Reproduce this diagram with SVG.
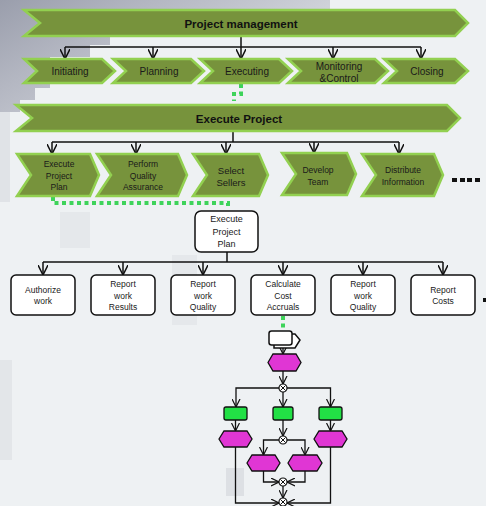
<svg xmlns="http://www.w3.org/2000/svg" width="486" height="506" viewBox="0 0 486 506">
<style>
.chev{fill:#77933c;stroke:#92d050;stroke-width:2.5;stroke-linejoin:miter}
.t{font-family:"Liberation Sans",Arial,sans-serif;fill:#1a1a1a;text-anchor:middle}
.tb{font-family:"Liberation Sans",Arial,sans-serif;fill:#111;text-anchor:middle;font-weight:bold;font-size:11.5px}
.box{fill:#fff;stroke:#111;stroke-width:1.5}
.ln{fill:none;stroke:#111;stroke-width:1.5}
.ar{fill:none;stroke:#111;stroke-width:1.5;marker-end:url(#v)}
.as{fill:none;stroke:#111;stroke-width:1.3;marker-end:url(#vs)}
.dot{fill:none;stroke:#3ed35a;stroke-width:4;stroke-dasharray:4,3.5}
.hex{fill:#e036d4;stroke:#111;stroke-width:1.3}
.gr{fill:#22e045;stroke:#111;stroke-width:1.3}
.x{fill:#fff;stroke:#111;stroke-width:1.2}
.xx{fill:none;stroke:#111;stroke-width:1}
</style>
<defs>
<marker id="v" viewBox="0 0 10 10" refX="10" refY="5" markerWidth="10" markerHeight="10" markerUnits="userSpaceOnUse" orient="auto">
<path d="M0,0 L10,5 L0,10" fill="none" stroke="#111" stroke-width="1.5"/>
</marker>
<marker id="vs" viewBox="0 0 10 10" refX="10" refY="5" markerWidth="8" markerHeight="9" markerUnits="userSpaceOnUse" orient="auto">
<path d="M0,0 L10,5 L0,10" fill="none" stroke="#111" stroke-width="1.5"/>
</marker>
<linearGradient id="bg1" x1="0" y1="0" x2="1" y2="0.6">
<stop offset="0" stop-color="#9a9eac"/>
<stop offset="0.35" stop-color="#b4b7c2"/>
<stop offset="1" stop-color="#dfe2e7"/>
</linearGradient>
<g id="xmark"><path class="xx" d="M-2.6,-2.6 L2.6,2.6 M2.6,-2.6 L-2.6,2.6"/></g>
</defs>
<g id="background">
<rect x="0" y="0" width="486" height="506" fill="#eef1f3"/>
<polygon points="0,0 330,0 330,10 110,10 110,45 90,45 90,57 50,57 50,88 35,88 35,100 20,100 20,112 0,112" fill="url(#bg1)"/>
<rect x="0" y="112" width="10" height="90" fill="#e0e3e7"/>
<rect x="60" y="212" width="30" height="36" fill="#e5e8eb"/>
<rect x="172" y="255" width="25" height="70" fill="#e5e8eb"/>
<rect x="0" y="360" width="12" height="100" fill="#e3e6e9"/>
<rect x="226" y="468" width="18" height="28" fill="#dde0e4"/>
</g>
<g id="connectors">
<path class="ln" d="M241,36 V47" stroke-width="2"/>
<path class="ln" d="M65,47 H421"/>
<path class="ar" d="M65,47 V59"/><path class="ar" d="M153,47 V59"/><path class="ar" d="M241,47 V59"/><path class="ar" d="M333,47 V59"/><path class="ar" d="M421,47 V59"/>
<path class="dot" d="M241,84 V94 H234 V101"/>
<path class="ln" d="M233,131 V142" stroke-width="2"/>
<path class="ln" d="M52,142 H399"/>
<path class="ar" d="M52,142 V154"/><path class="ar" d="M136,142 V154"/><path class="ar" d="M226,142 V154"/><path class="ar" d="M314,142 V153"/><path class="ar" d="M399,142 V154"/>
<path class="dot" d="M53,197 V203 H228 V207"/>
<path class="ln" d="M227,252 V262" stroke-width="2"/>
<path class="ln" d="M43,262 H443"/>
<path class="ar" d="M43,262 V275"/><path class="ar" d="M123,262 V275"/><path class="ar" d="M203,262 V275"/><path class="ar" d="M283,262 V275"/><path class="ar" d="M363,262 V275"/><path class="ar" d="M443,262 V275"/>
<path class="dot" d="M283,316 V330"/>
<path class="as" d="M283,346 V354"/>
<path class="as" d="M283,371 V384"/>
<path class="as" d="M279,388 H236 V407"/>
<path class="as" d="M287,388 H330.5 V407"/>
<path class="as" d="M283,392 V407"/>
<path class="as" d="M235.5,420 V431"/>
<path class="as" d="M330.5,420 V431"/>
<path class="as" d="M283,420 V436"/>
<path class="as" d="M279,440 H263.5 V455"/>
<path class="as" d="M287,440 H305 V455"/>
<path class="as" d="M263.5,471 V482 H279"/>
<path class="as" d="M305,471 V482 H287"/>
<path class="as" d="M283,486 V498"/>
<path class="as" d="M235.5,447 V503 H279"/>
<path class="as" d="M330.5,447 V503 H287"/>
</g>
<g id="project-management">
<polygon class="chev" points="24,10 455,10 468,23 455,36 24,36 40,23"/>
<text class="tb" x="241" y="27.5">Project management</text>
</g>
<g id="initiating">
<polygon class="chev" points="24,59 102,59 115,71 102,83 24,83 37,71"/>
<text class="t" x="70" y="75" font-size="10">Initiating</text>
</g>
<g id="planning">
<polygon class="chev" points="113,59 191,59 204,71 191,83 113,83 126,71"/>
<text class="t" x="159" y="75" font-size="10">Planning</text>
</g>
<g id="executing">
<polygon class="chev" points="200,59 279,59 292,71 279,83 200,83 213,71"/>
<text class="t" x="247" y="75" font-size="10">Executing</text>
</g>
<g id="monitoring">
<polygon class="chev" points="288,59 375,59 388,71 375,83 288,83 301,71"/>
<text class="t" x="339" y="69.5" font-size="10">Monitoring</text>
<text class="t" x="339" y="81.5" font-size="10">&amp;Control</text>
</g>
<g id="closing">
<polygon class="chev" points="384,59 455,59 468,71 455,83 384,83 397,71"/>
<text class="t" x="427" y="75" font-size="10">Closing</text>
</g>
<g id="execute-project">
<polygon class="chev" points="16,105 447,105 460,118 447,131 16,131 32,118"/>
<text class="tb" x="239" y="122.5">Execute Project</text>
</g>
<g id="execute-project-plan-step">
<polygon class="chev" points="17,154 90,154 99,175 90,196 17,196 31,175"/>
<text class="t" x="59" y="167" font-size="8.5">Execute</text>
<text class="t" x="59" y="179" font-size="8.5">Project</text>
<text class="t" x="59" y="190" font-size="8.5">Plan</text>
</g>
<g id="perform-quality-assurance">
<polygon class="chev" points="97,154 178,154 187,175 178,196 97,196 111,175"/>
<text class="t" x="143" y="167" font-size="8.5">Perform</text>
<text class="t" x="143" y="179" font-size="8.5">Quality</text>
<text class="t" x="143" y="190" font-size="8.5">Assurance</text>
</g>
<g id="select-sellers">
<polygon class="chev" points="193,154 259,154 268,175 259,196 193,196 207,175"/>
<text class="t" x="231" y="173.5" font-size="9.5">Select</text>
<text class="t" x="231" y="185.5" font-size="9.5">Sellers</text>
</g>
<g id="develop-team">
<polygon class="chev" points="282,153 347,153 356,174 347,195 282,195 296,174"/>
<text class="t" x="318" y="173" font-size="8.5">Develop</text>
<text class="t" x="318" y="184.5" font-size="8.5">Team</text>
</g>
<g id="distribute-information">
<polygon class="chev" points="362,154 434,154 443,175 434,196 362,196 376,175"/>
<text class="t" x="403" y="173" font-size="8.5">Distribute</text>
<text class="t" x="403" y="184.5" font-size="8.5">Information</text>
</g>
<g id="ellipsis" fill="#111">
<rect x="452" y="178" width="5" height="4"/><rect x="460" y="178" width="5" height="4"/><rect x="467" y="178" width="5" height="4"/><rect x="475" y="178" width="5" height="4"/>
<rect x="483" y="298" width="3" height="4"/>
</g>
<g id="execute-project-plan">
<rect class="box" x="195" y="211" width="63" height="41" rx="6"/>
<text class="t" x="226.5" y="222" font-size="9">Execute</text>
<text class="t" x="226.5" y="235" font-size="9">Project</text>
<text class="t" x="226.5" y="247" font-size="9">Plan</text>
</g>
<g id="authorize-work">
<rect class="box" x="11" y="275" width="64" height="40" rx="5"/>
<text class="t" x="43" y="293" font-size="8.5">Authorize</text>
<text class="t" x="43" y="304" font-size="8.5">work</text>
</g>
<g id="report-work-results">
<rect class="box" x="91" y="275" width="64" height="40" rx="5"/>
<text class="t" x="123" y="287" font-size="8.5">Report</text>
<text class="t" x="123" y="299" font-size="8.5">work</text>
<text class="t" x="123" y="310" font-size="8.5">Results</text>
</g>
<g id="report-work-quality-1">
<rect class="box" x="171" y="275" width="64" height="40" rx="5"/>
<text class="t" x="203" y="287" font-size="8.5">Report</text>
<text class="t" x="203" y="299" font-size="8.5">work</text>
<text class="t" x="203" y="310" font-size="8.5">Quality</text>
</g>
<g id="calculate-cost-accruals">
<rect class="box" x="251" y="275" width="64" height="40" rx="5"/>
<text class="t" x="283" y="287" font-size="8.5">Calculate</text>
<text class="t" x="283" y="299" font-size="8.5">Cost</text>
<text class="t" x="283" y="310" font-size="8.5">Accruals</text>
</g>
<g id="report-work-quality-2">
<rect class="box" x="331" y="275" width="64" height="40" rx="5"/>
<text class="t" x="363" y="287" font-size="8.5">Report</text>
<text class="t" x="363" y="299" font-size="8.5">work</text>
<text class="t" x="363" y="310" font-size="8.5">Quality</text>
</g>
<g id="report-costs">
<rect class="box" x="411" y="275" width="64" height="40" rx="5"/>
<text class="t" x="443" y="293" font-size="8.5">Report</text>
<text class="t" x="443" y="304" font-size="8.5">Costs</text>
</g>
<g id="start-event">
<polygon class="box" points="274,334 295,334 300,340 295,348 274,348" stroke-width="1.3"/>
<rect class="box" x="269" y="331" width="23" height="14" rx="2.5" stroke-width="1.3"/>
</g>
<g id="func-1"><polygon class="hex" points="268,362.5 273,354 296,354 301,362.5 296,371 273,371"/></g>
<g id="xor-1"><circle class="x" cx="283" cy="388" r="4"/><use href="#xmark" x="283" y="388"/></g>
<g id="event-left"><rect class="gr" x="224" y="407" width="23" height="13" rx="2"/></g>
<g id="event-center"><rect class="gr" x="273" y="407" width="20" height="13" rx="2"/></g>
<g id="event-right"><rect class="gr" x="319" y="407" width="23" height="13" rx="2"/></g>
<g id="func-left"><polygon class="hex" points="219,439 224,431 247,431 252,439 247,447 224,447"/></g>
<g id="func-right"><polygon class="hex" points="314,439 319,431 342,431 347,439 342,447 319,447"/></g>
<g id="xor-2"><circle class="x" cx="283" cy="440" r="4"/><use href="#xmark" x="283" y="440"/></g>
<g id="func-center-left"><polygon class="hex" points="247,463 252,455 275,455 280,463 275,471 252,471"/></g>
<g id="func-center-right"><polygon class="hex" points="288,463 293,455 317,455 322,463 317,471 293,471"/></g>
<g id="xor-3"><circle class="x" cx="283" cy="482" r="4"/><use href="#xmark" x="283" y="482"/></g>
<g id="xor-4"><circle class="x" cx="283" cy="502" r="4"/><use href="#xmark" x="283" y="502"/></g>
</svg>
